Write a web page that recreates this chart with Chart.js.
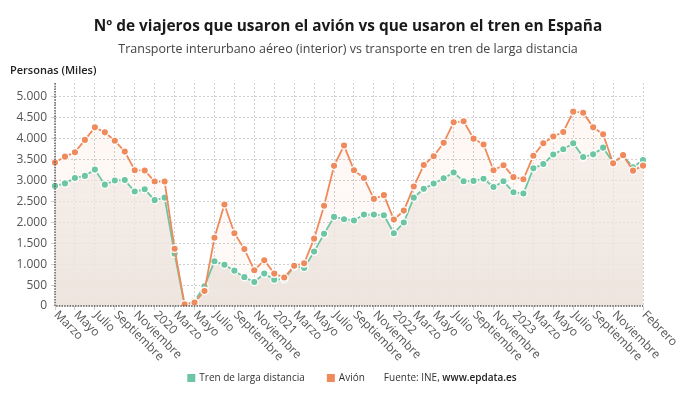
<!DOCTYPE html>
<html>
<head>
<meta charset="utf-8">
<script src="https://cdn.jsdelivr.net/npm/chart.js@4/dist/chart.umd.min.js"></script>
<style>
html,body{margin:0;padding:0;background:#fff;}
#wrap{width:690px;height:405px;position:relative;}
</style>
</head>
<body>
<div id="wrap"><canvas id="c" width="690" height="405"></canvas></div>
<script>
// ---- DATA ----
const categories = [
 'Marzo','Abril','Mayo','Junio','Julio','Agosto','Septiembre','Octubre','Noviembre','Diciembre',
 '2020','Febrero','Marzo','Abril','Mayo','Junio','Julio','Agosto','Septiembre','Octubre','Noviembre','Diciembre',
 '2021','Febrero','Marzo','Abril','Mayo','Junio','Julio','Agosto','Septiembre','Octubre','Noviembre','Diciembre',
 '2022','Febrero','Marzo','Abril','Mayo','Junio','Julio','Agosto','Septiembre','Octubre','Noviembre','Diciembre',
 '2023','Febrero','Marzo','Abril','Mayo','Junio','Julio','Agosto','Septiembre','Octubre','Noviembre','Diciembre',
 '2024','Febrero'
];
const tren = [
 2870,2930,3060,3110,3260,2900,3000,3010,2735,2790,
 2530,2590,1250,20,120,470,1070,985,845,690,575,775,
 630,640,945,910,1300,1725,2130,2075,2045,2185,2185,2170,
 1740,1995,2590,2800,2925,3055,3190,2980,2990,3040,2845,2980,
 2720,2690,3290,3395,3620,3745,3890,3560,3625,3785,3430,3590,
 3315,3490
];
const avion = [
 3430,3570,3675,3970,4270,4150,3950,3690,3245,3240,
 2975,2975,1370,40,85,360,1630,2425,1740,1360,855,1095,
 775,680,960,1020,1610,2395,3350,3835,3245,3060,2560,2650,
 2065,2280,2855,3370,3580,3900,4390,4415,4000,3860,3245,3365,
 3080,3030,3590,3890,4050,4160,4645,4620,4270,4105,3410,3605,
 3235,3355
];
const seriesNames = ['Tren de larga distancia','Avión'];
const yTicks = [0,500,1000,1500,2000,2500,3000,3500,4000,4500,5000];
const titleText = 'Nº de viajeros que usaron el avión vs que usaron el tren en España';
const subtitleText = 'Transporte interurbano aéreo (interior) vs transporte en tren de larga distancia';
const yAxisTitle = 'Personas (Miles)';
const sourceRegular = 'Fuente: INE, ';
const sourceBold = 'www.epdata.es';

// ---- STYLE ----
const GREEN = '#6cc5a3';
const ORANGE = '#ee8a5c';
const FONT = "'Open Sans', 'Noto Sans', sans-serif";

function showTick(i){ return (i % 2 === 0 && i !== categories.length - 2) || i === categories.length - 1; }
function fmt(v){ return String(Math.round(v)).replace(/\B(?=(\d{3})+(?!\d))/g, '.'); }

function grad(ctx, stops){
  const ch = ctx.chart; const a = ch.chartArea;
  if(!a) return stops[1];
  const g = ch.ctx.createLinearGradient(0, a.top, 0, a.bottom);
  g.addColorStop(0, stops[0]); g.addColorStop(1, stops[1]);
  return g;
}

const decor = {
  id:'decor',
  afterDraw(chart){
    const c = chart.ctx, a = chart.chartArea, x = chart.scales.x;
    c.save();
    // titles
    c.textAlign = 'center'; c.textBaseline = 'middle';
    c.fillStyle = '#1a1a1a'; c.font = "bold 15.4px " + FONT;
    c.fillText(titleText, 348, 27);
    c.fillStyle = '#444'; c.font = "12.5px " + FONT;
    c.fillText(subtitleText, 348, 49);
    // axis lines (dotted)
    c.strokeStyle = '#555'; c.lineWidth = 1.4; c.setLineDash([1.5,1.2]);
    c.beginPath(); c.moveTo(a.left, a.top); c.lineTo(a.left, a.bottom); c.lineTo(a.right, a.bottom); c.stroke();
    c.setLineDash([]);
    // y axis title
    c.fillStyle = '#222'; c.font = "600 11px " + FONT; c.textBaseline = 'middle'; c.textAlign = 'left';
    c.fillText(yAxisTitle, 10, 71);
    // x tick labels (rotated clockwise)
    c.fillStyle = '#555'; c.font = "12px " + FONT; c.textAlign = 'left'; c.textBaseline = 'middle';
    categories.forEach((lab, i) => {
      if(!showTick(i)) return;
      const px = x.getPixelForValue(i);
      c.save(); c.translate(px + 1, a.bottom + 7); c.rotate(Math.PI/4);
      c.fillText(lab, 0, 0); c.restore();
    });
    // legend
    const ly = 378;
    c.font = "10px " + FONT;
    const w1 = c.measureText(seriesNames[0]).width, w2 = c.measureText(seriesNames[1]).width;
    const w3 = c.measureText(sourceRegular).width;
    c.font = "600 10px " + FONT;
    const w4 = c.measureText(sourceBold).width;
    const total = 8+4+w1+22+8+4+w2+19+w3+w4;
    let sx = 352 - total/2;
    c.fillStyle = GREEN; c.fillRect(sx, ly-4, 8, 8); sx += 12;
    c.fillStyle = '#333'; c.font = "10px " + FONT; c.fillText(seriesNames[0], sx, ly); sx += w1 + 22;
    c.fillStyle = ORANGE; c.fillRect(sx, ly-4, 8, 8); sx += 12;
    c.fillStyle = '#333'; c.fillText(seriesNames[1], sx, ly); sx += w2 + 19;
    c.fillText(sourceRegular, sx, ly); sx += w3;
    c.font = "600 10px " + FONT; c.fillStyle = '#222'; c.fillText(sourceBold, sx, ly);
    c.restore();
  }
};

new Chart(document.getElementById('c'), {
  type:'line',
  data:{
    labels: categories,
    datasets:[
      {
        label: seriesNames[0], data: tren, order: 2,
        borderColor: GREEN, backgroundColor: ctx => grad(ctx, ['rgba(244,240,236,0.35)','rgba(237,232,227,1)']),
        pointBackgroundColor: GREEN, pointBorderColor:'#fff', pointBorderWidth:1.3, pointRadius:3.7,
        borderWidth:1.8, fill:'origin', tension:0
      },
      {
        label: seriesNames[1], data: avion, order: 1,
        borderColor: ORANGE, backgroundColor: ctx => grad(ctx, ['rgba(238,138,92,0.07)','rgba(238,138,92,0.04)']),
        pointBackgroundColor: ORANGE, pointBorderColor:'#fff', pointBorderWidth:1.3, pointRadius:3.7,
        borderWidth:1.8, fill:'origin', tension:0
      }
    ]
  },
  options:{
    responsive:false, animation:false, devicePixelRatio:1,
    layout:{ padding:{ left:0, right:47, top:83, bottom:39 } },
    plugins:{
      legend:{ display:false }, tooltip:{ enabled:false },
      filler:{ drawTime:'beforeDatasetsDraw' },
      title:{ display:false }, subtitle:{ display:false }
    },
    scales:{
      x:{
        type:'category',
        border:{ display:false, dash:[2,2] },
        grid:{ color: ctx => showTick(ctx.index) ? '#cfcfcf' : 'rgba(0,0,0,0)', tickLength:4, drawTicks:true },
        ticks:{ display:false, autoSkip:false },
        afterFit: s => { s.height = 60; }
      },
      y:{
        min:0, max:5330,
        border:{ display:false, dash:[2,2] },
        afterBuildTicks: s => { s.ticks = yTicks.map(v => ({ value: v })); },
        grid:{ color: ctx => (ctx.tick && ctx.tick.value > 0) ? '#cfcfcf' : 'rgba(0,0,0,0)', tickLength:4 },
        ticks:{ autoSkip:false, color:'#555', padding:4, font:{ family:FONT, size:12 },
          callback: v => fmt(v) },
        afterFit: s => { s.width = 55; }
      }
    }
  },
  plugins:[decor]
});
</script>
</body>
</html>
